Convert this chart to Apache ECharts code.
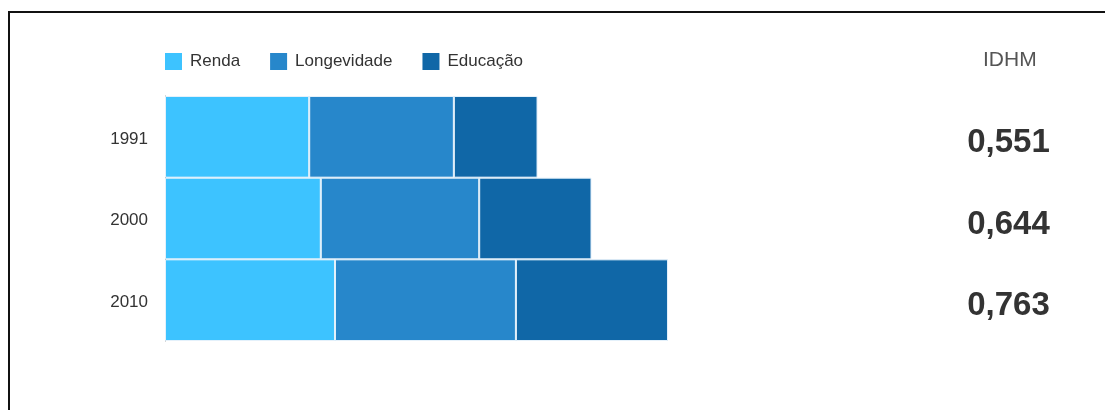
<!DOCTYPE html>
<html>
<head>
<meta charset="utf-8">
<script src="https://cdn.jsdelivr.net/npm/echarts@6/dist/echarts.min.js"></script>
<style>
  html, body { margin: 0; padding: 0; background: #fff; }
  #chart { position: absolute; left: 0; top: 0; width: 1105px; height: 410px; }
  #frame { position: absolute; left: 8px; top: 11px; width: 1200px; height: 500px;
           border-top: 2px solid #111; border-left: 2px solid #111; }
</style>
</head>
<body>
<div id="frame"></div>
<div id="chart"></div>
<script>
var years = ['1991', '2000', '2010'];
var renda = [0.660, 0.713, 0.778];
var longevidade = [0.662, 0.725, 0.828];
var educacao = [0.383, 0.514, 0.696];
var idhm = ['0,551', '0,644', '0,763'];

var font = "'Liberation Sans', Arial, sans-serif";

var myChart = echarts.init(document.getElementById('chart'));

function barSeries(name, data, color) {
  return {
    name: name,
    type: 'bar',
    stack: 'idh',
    barCategoryGap: '0%',
    data: data,
    itemStyle: { color: color, borderColor: '#e4f1fb', borderWidth: 1 },
    emphasis: { disabled: true }
  };
}

var option = {
  animation: false,
  title: {
    text: 'IDHM',
    left: 983,
    top: 50,
    padding: 0,
    textStyle: { fontFamily: font, fontSize: 21, fontWeight: 'normal', color: '#555' }
  },
  legend: {
    left: 165,
    top: 53,
    padding: 0,
    itemWidth: 17,
    itemHeight: 17,
    itemGap: 30,
    icon: 'rect',
    itemStyle: { borderWidth: 0 },
    textStyle: { fontFamily: font, fontSize: 17, color: '#333', padding: [0, 0, 0, 3] }
  },
  grid: { left: 165, top: 96, height: 245, right: 284.5 },
  xAxis: {
    type: 'value',
    min: 0,
    max: 3,
    show: false
  },
  yAxis: [
    {
      type: 'category',
      data: years,
      inverse: true,
      axisLine: { lineStyle: { color: '#999' } },
      axisTick: { show: false },
      axisLabel: {
        margin: 17,
        formatter: function (v) { return '{y|' + v + '}'; },
        rich: { y: { fontFamily: font, fontSize: 17, color: '#333', padding: [4, 0, 0, 0] } }
      }
    },
    {
      type: 'category',
      data: years,
      inverse: true,
      position: 'right',
      axisLine: { show: false },
      axisTick: { show: false },
      axisLabel: {
        margin: 188,
        align: 'center',
        formatter: function (v, i) { return '{v|' + idhm[i] + '}'; },
        rich: {
          v: { fontFamily: font, fontSize: 33, fontWeight: 'bold', color: '#333', padding: [12, 0, 0, 0] }
        }
      }
    }
  ],
  series: [
    barSeries('Renda', renda, '#3dc3ff'),
    barSeries('Longevidade', longevidade, '#2787cb'),
    barSeries('Educação', educacao, '#1067a7')
  ]
};

myChart.setOption(option);
</script>
</body>
</html>
